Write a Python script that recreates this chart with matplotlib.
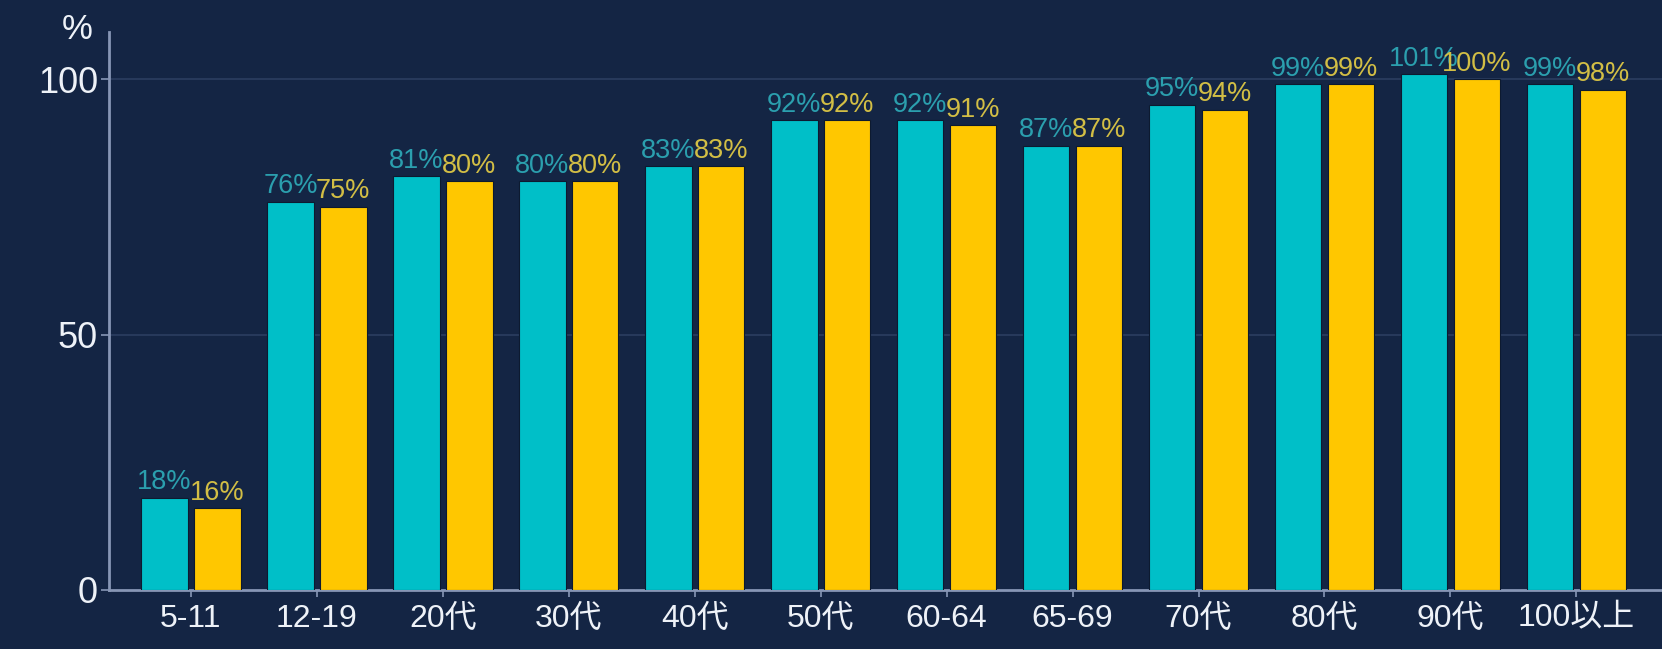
import matplotlib
matplotlib.use("Agg")
import matplotlib.pyplot as plt
import numpy as np

plt.rcParams["font.family"] = ["Liberation Sans", "Noto Sans CJK JP", "DejaVu Sans"]

categories = ["5-11", "12-19", "20代", "30代", "40代", "50代",
              "60-64", "65-69", "70代", "80代", "90代", "100以上"]
series_a = [18, 76, 81, 80, 83, 92, 92, 87, 95, 99, 101, 99]
series_b = [16, 75, 80, 80, 83, 92, 91, 87, 94, 99, 100, 98]
y_ticks = [0, 50, 100]

BG = "#142544"
TEAL = "#00bfc8"
GOLD = "#ffc700"
AXIS = "#8796b5"

fig = plt.figure(figsize=(16.62, 6.49), dpi=100)
fig.patch.set_facecolor(BG)
ax = fig.add_axes([0.0656, 0.091, 0.9344, 0.860])
ax.set_facecolor(BG)

x = np.arange(len(categories))
w = 0.37
off = 0.21

ax.bar(x - off, series_a, width=w, color=TEAL, edgecolor="#0d1a30",
       linewidth=0.8, zorder=3)
ax.bar(x + off, series_b, width=w, color=GOLD, edgecolor="#0d1a30",
       linewidth=0.8, zorder=3)

# value labels sit right on top of each bar
for xi, v in zip(x, series_a):
    ax.text(xi - off, v + 0.5, f"{v}%", ha="center", va="bottom",
            fontsize=19.5, color="#2b9fae", zorder=4)
for xi, v in zip(x, series_b):
    ax.text(xi + off, v + 0.5, f"{v}%", ha="center", va="bottom",
            fontsize=19.5, color="#d2be45", zorder=5)

ax.set_xlim(-0.65, 11.68)
ax.set_ylim(0, 109.3)

ax.set_yticks(y_ticks)
ax.set_yticklabels([str(t) for t in y_ticks], fontsize=26, color="#eef2f8")
ax.set_xticks(x)
ax.set_xticklabels(categories, fontsize=23, color="#eef2f8")

for t in y_ticks[1:]:
    ax.axhline(t, color="#2b3e60", linewidth=1.2, zorder=1)

for side in ("top", "right"):
    ax.spines[side].set_visible(False)
for side in ("left", "bottom"):
    ax.spines[side].set_color(AXIS)
    ax.spines[side].set_linewidth(2)

ax.tick_params(axis="y", length=6, width=1.2, color=AXIS, pad=2)
ax.tick_params(axis="x", length=5, width=1.2, color=AXIS, pad=5)

fig.text(0.0465, 0.955, "%", fontsize=25, color="#eef2f8", ha="center", va="center")

fig.savefig("out.png", dpi=100, facecolor=BG)
